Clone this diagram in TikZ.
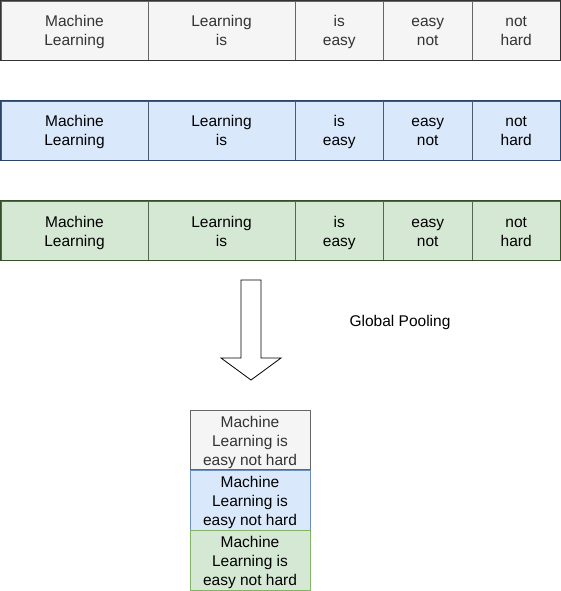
\documentclass[tikz,border=0pt]{standalone}
\usepackage{fontspec}
\setmainfont{Liberation Sans}
\usetikzlibrary{positioning}

\definecolor{greyfill}{HTML}{F5F5F5}
\definecolor{greyline}{HTML}{666666}
\definecolor{greytext}{HTML}{333333}
\definecolor{greyedge}{HTML}{333333}
\definecolor{bluefill}{HTML}{DAE8FC}
\definecolor{blueline}{HTML}{6C8EBF}
\definecolor{bluediv}{HTML}{4A5A70}
\definecolor{blueedge}{HTML}{2A4468}
\definecolor{greenfill}{HTML}{D5E8D4}
\definecolor{greenline}{HTML}{82B366}
\definecolor{greendiv}{HTML}{556650}
\definecolor{greenedge}{HTML}{34502A}

% struts so every cell sits the same, whatever the letters
\newcommand{\topstrut}{\rule{0pt}{15.5pt}}
\newcommand{\botstrut}{\rule[-3.5pt]{0pt}{3.5pt}}
\newcommand{\twolines}[2]{\topstrut#1\\#2\botstrut}
\newcommand{\pooledtext}{\topstrut Machine\\Learning is\\easy not hard\botstrut}

\begin{document}
\begin{tikzpicture}[x=1pt,y=-1pt]

  \tikzstyle{cell}=[rectangle,inner sep=0pt,align=center,line width=0.8pt,
    minimum height=59pt,font=\fontsize{15.5}{19}\selectfont]
  \tikzstyle{wide}=[cell,minimum width=147pt]
  \tikzstyle{narrow}=[cell,minimum width=88.5pt]
  \tikzstyle{grey}=[draw=greyline,fill=greyfill,text=greytext]
  \tikzstyle{blue}=[draw=blueline,fill=bluefill,text=black]
  \tikzstyle{green}=[draw=greenline,fill=greenfill,text=black]
  \tikzstyle{bluerow}=[blue,draw=bluediv]
  \tikzstyle{greenrow}=[green,draw=greendiv]
  \tikzstyle{outer}=[line width=1.6pt]
  \tikzstyle{pooled}=[cell,minimum width=120pt,minimum height=59.5pt]

  \useasboundingbox (0,0) rectangle (561,591);

  %% first row
  \node (a1) at (74.5,30.5)  [wide,grey]   {\twolines{Machine}{Learning}};
  \node (a2) at (221.5,30.5) [wide,grey]   {\twolines{Learning}{is}};
  \node (a3) at (339.25,30.5) [narrow,grey] {\twolines{is}{easy}};
  \node (a4) at (427.75,30.5) [narrow,grey] {\twolines{easy}{not}};
  \node (a5) at (516.25,30.5) [narrow,grey] {\twolines{not}{hard}};
  \draw [outer,draw=greyedge] (a1.north west) rectangle (a5.south east);

  %% second row
  \node (b1) at (74.5,130.5)  [wide,bluerow]   {\twolines{Machine}{Learning}};
  \node (b2) at (221.5,130.5) [wide,bluerow]   {\twolines{Learning}{is}};
  \node (b3) at (339.25,130.5) [narrow,bluerow] {\twolines{is}{easy}};
  \node (b4) at (427.75,130.5) [narrow,bluerow] {\twolines{easy}{not}};
  \node (b5) at (516.25,130.5) [narrow,bluerow] {\twolines{not}{hard}};
  \draw [outer,draw=blueedge] (b1.north west) rectangle (b5.south east);

  %% third row
  \node (c1) at (74.5,230.5)  [wide,greenrow]   {\twolines{Machine}{Learning}};
  \node (c2) at (221.5,230.5) [wide,greenrow]   {\twolines{Learning}{is}};
  \node (c3) at (339.25,230.5) [narrow,greenrow] {\twolines{is}{easy}};
  \node (c4) at (427.75,230.5) [narrow,greenrow] {\twolines{easy}{not}};
  \node (c5) at (516.25,230.5) [narrow,greenrow] {\twolines{not}{hard}};
  \draw [outer,draw=greenedge] (c1.north west) rectangle (c5.south east);

  %% pooling arrow
  \draw [line width=0.8pt,line join=miter]
    (241,280) -- (261,280) -- (261,358) -- (281,358) -- (251,380)
    -- (221,358) -- (241,358) -- cycle;
  \node (gp) at (400,322) [font=\fontsize{15.5}{19}\selectfont] {Global Pooling};

  %% pooled result
  \node (p1) at (250,440) [pooled,grey]  {\pooledtext};
  \node (p2) [pooled,blue,below=0pt of p1]  {\pooledtext};
  \node (p3) [pooled,green,below=0pt of p2] {\pooledtext};

\end{tikzpicture}
\end{document}
